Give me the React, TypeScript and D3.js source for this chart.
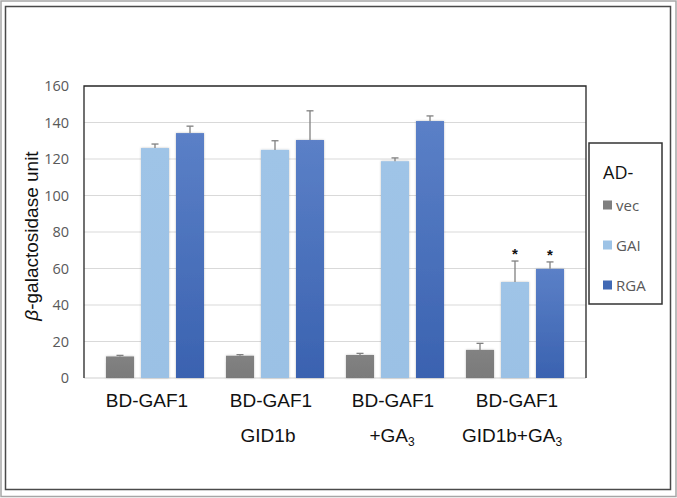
import React from "react";
import * as d3 from "d3";

const groups = ["g1", "g2", "g3", "g4"];
const labelLine1 = ["BD-GAF1", "BD-GAF1", "BD-GAF1", "BD-GAF1"];
const labelLine2 = ["", "GID1b", "+GA", "GID1b+GA"];
const labelSub = ["", "", "3", "3"];
const labelDx1 = [-8, -4, -2, 2];
const labelDx2 = [0, -7, -3, -3];
const seriesNames = ["vec", "GAI", "RGA"];
const vecValues = [11.8, 12.2, 12.6, 15.4];
const vecErrors = [0.6, 0.6, 0.9, 3.6];
const gaiValues = [126, 125, 118.8, 52.6];
const gaiErrors = [2.2, 5, 1.8, 11.5];
const rgaValues = [134.2, 130.4, 140.8, 59.8];
const rgaErrors = [3.8, 16, 2.8, 3.8];
const gaiStars = [false, false, false, true];
const rgaStars = [false, false, false, true];
const yTicks = [0, 20, 40, 60, 80, 100, 120, 140, 160];

const W = 677;
const H = 498;
const left = 84;
const right = 586;
const top = 86;
const bottom = 378;

export default function App() {
  const x0 = d3.scaleBand<string>().domain(groups).range([left, right]).padding(0.1833);
  const x1 = d3.scaleBand<string>().domain(seriesNames).range([0, x0.bandwidth()]).paddingInner(0.2);
  const y = d3.scaleLinear().domain([0, 160]).range([bottom, top]);

  const seriesVals = [vecValues, gaiValues, rgaValues];
  const seriesErrs = [vecErrors, gaiErrors, rgaErrors];
  const seriesStars = [[false, false, false, false], gaiStars, rgaStars];
  const fills = ["url(#gVec)", "url(#gGai)", "url(#gRga)"];
  const legendColors = ["#7f7f7f", "#9dc3e6", "#4169b5"];

  const bars: React.ReactNode[] = [];
  const errs: React.ReactNode[] = [];
  groups.forEach((g, gi) => {
    seriesNames.forEach((s, si) => {
      const v = seriesVals[si][gi];
      const e = seriesErrs[si][gi];
      const bx = (x0(g) as number) + (x1(s) as number);
      const bw = x1.bandwidth();
      const cx = bx + bw / 2;
      bars.push(
        <rect key={`b${gi}${si}`} x={bx} y={y(v)} width={bw} height={y(0) - y(v)} fill={fills[si]} filter="url(#shadow)" />
      );
      errs.push(
        <g key={`e${gi}${si}`} stroke="#808080" strokeWidth={1.3}>
          <line x1={cx} x2={cx} y1={y(v)} y2={y(v + e)} />
          <line x1={cx - 3.5} x2={cx + 3.5} y1={y(v + e)} y2={y(v + e)} />
        </g>
      );
      if (seriesStars[si][gi]) {
        errs.push(
          <text key={`s${gi}${si}`} x={cx} y={y(v + e) - 2} textAnchor="middle" fontFamily="Liberation Sans, Arial" fontSize={15} fontWeight="bold" fill="#111">*</text>
        );
      }
    });
  });

  return (
    <svg width={W} height={H} style={{ position: "absolute", left: 0, top: 0, background: "#fff" }}>
      <defs>
        <linearGradient id="gVec" x1="0" y1="0" x2="0" y2="1">
          <stop offset="0" stopColor="#828282" />
          <stop offset="1" stopColor="#7a7a7a" />
        </linearGradient>
        <linearGradient id="gGai" x1="0" y1="0" x2="0" y2="1">
          <stop offset="0" stopColor="#9fc4e7" />
          <stop offset="1" stopColor="#9bc1e5" />
        </linearGradient>
        <linearGradient id="gRga" x1="0" y1="0" x2="0" y2="1">
          <stop offset="0" stopColor="#5b80c7" />
          <stop offset="1" stopColor="#3a62b0" />
        </linearGradient>
        <filter id="shadow" x="-20%" y="-10%" width="140%" height="120%">
          <feDropShadow dx="0" dy="0" stdDeviation="1" floodColor="#000" floodOpacity="0.25" />
        </filter>
      </defs>
      <rect x={1} y={1} width={W - 2} height={H - 2.5} fill="#fff" stroke="#a6a6a6" strokeWidth={1.5} />
      <rect x={5.5} y={6.5} width={665} height={483} fill="#fff" stroke="#4a4a4a" strokeWidth={1.5} />

      {yTicks.map((t) => (
        <g key={t}>
          {t > 0 && t < 160 && <line x1={left} x2={right} y1={y(t)} y2={y(t)} stroke="#d9d9d9" strokeWidth={1} />}
          <text x={69} y={y(t) + 5} textAnchor="end" fontFamily="Open Sans, Calibri, sans-serif" fontSize={14.5} fill="#595959">{t}</text>
        </g>
      ))}
      <line x1={left} x2={right} y1={bottom} y2={bottom} stroke="#d0d0d0" strokeWidth={1.2} />
      <path d={`M${left},${bottom}V${top}H${right}V${bottom}`} fill="none" stroke="#262626" strokeWidth={1.3} />

      {bars}
      {errs}

      <text transform={`translate(38,${(top + bottom) / 2 + 4}) rotate(-90)`} textAnchor="middle" fontFamily="Liberation Sans, Arial, sans-serif" fontSize={19} fill="#111">
        <tspan fontStyle="italic">β</tspan>-galactosidase unit
      </text>

      {groups.map((g, gi) => {
        const cx = (x0(g) as number) + x0.bandwidth() / 2;
        return (
          <g key={`l${gi}`} fontFamily="Liberation Sans, Arial, sans-serif" fill="#111">
            <text x={cx + labelDx1[gi]} y={407} textAnchor="middle" fontSize={19}>{labelLine1[gi]}</text>
            {labelLine2[gi] && (
              <text x={cx + labelDx2[gi]} y={442} textAnchor="middle" fontSize={19}>
                {labelLine2[gi]}
                {labelSub[gi] && <tspan fontSize={12} dy={4}>{labelSub[gi]}</tspan>}
              </text>
            )}
          </g>
        );
      })}

      <rect x={589} y={143} width={73} height={161} fill="#fff" stroke="#333" strokeWidth={1.5} />
      <text x={603} y={179} fontFamily="Open Sans, Calibri, sans-serif" fontSize={18} fill="#111">AD-</text>
      {seriesNames.map((s, si) => (
        <g key={`lg${si}`}>
          <rect x={603} y={200.5 + si * 40} width={9} height={9} fill={legendColors[si]} />
          <text x={616} y={210.5 + si * 40} fontFamily="Open Sans, Calibri, sans-serif" fontSize={15} fill="#595959">{s}</text>
        </g>
      ))}
    </svg>
  );
}
